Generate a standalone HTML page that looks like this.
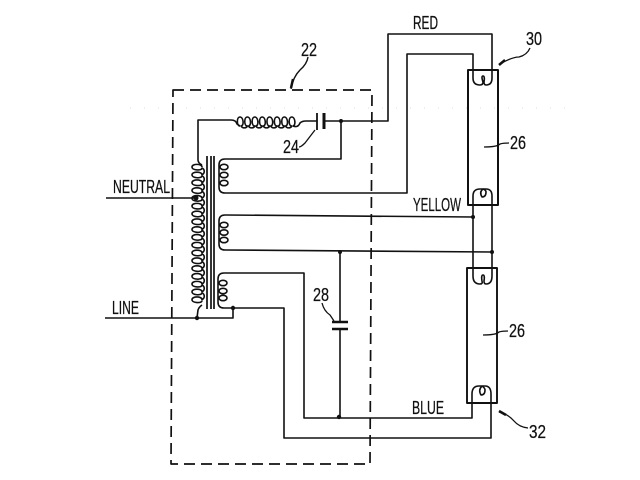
<!DOCTYPE html>
<html><head><meta charset="utf-8"><style>
html,body{margin:0;padding:0;background:#fff;width:640px;height:480px;overflow:hidden}
svg{display:block}
text{font-family:"Liberation Sans",sans-serif;font-size:18px;fill:#111;stroke:#111;stroke-width:.25}
</style></head><body>
<svg width="640" height="480" viewBox="0 0 640 480" xmlns="http://www.w3.org/2000/svg">
<defs>
<g id="ov"><ellipse cx="0" cy="0" rx="4" ry="2.7"/></g>
</defs>
<rect width="640" height="480" fill="#fff"/>
<!-- speckle line -->
<path d="M130,108H565" stroke="#ddd" stroke-width="1" stroke-dasharray="1 13" fill="none"/>
<g fill="none" stroke="#111" stroke-width="1.6" stroke-linejoin="round">
<!-- dashed box -->
<path d="M173,90H372L370,464H171Z" stroke-width="1.7" stroke-dasharray="11 6"/>
<!-- top wire -->
<path d="M198,160V120H231Q236,120 237,124L240,126"/>
<path d="M240,126c-3.5,0 -3.5,-9 0,-9c3.5,0 4.3,9 1,9c1.5,2.5 5.3,2.5 6.4,0c-3.5,0 -3.5,-9 0,-9c3.5,0 4.3,9 1,9c1.5,2.5 5.3,2.5 6.4,0c-3.5,0 -3.5,-9 0,-9c3.5,0 4.3,9 1,9c1.5,2.5 5.3,2.5 6.4,0c-3.5,0 -3.5,-9 0,-9c3.5,0 4.3,9 1,9c1.5,2.5 5.3,2.5 6.4,0c-3.5,0 -3.5,-9 0,-9c3.5,0 4.3,9 1,9c1.5,2.5 5.3,2.5 6.4,0c-3.5,0 -3.5,-9 0,-9c3.5,0 4.3,9 1,9c1.5,2.5 5.3,2.5 6.4,0c-3.5,0 -3.5,-9 0,-9c3.5,0 4.3,9 1,9c1.5,2.5 5.3,2.5 6.4,0c-3.5,0 -3.5,-9 0,-9c3.5,0 4.3,9 1,9"/>
<path d="M293,126Q298,128 300,123Q302,121 306,121H317"/>
<path d="M317,113V130" stroke-width="1.8"/>
<path d="M324,113V129" stroke-width="3"/>
<path d="M324,121H388V34H492V70"/>
<path d="M341,121V159H225Q219,159 219,165V187Q219,193 225,193H407V54H473V70"/>
<!-- primary coil -->
<path d="M198,160Q198,163 202,165"/>
<path d="M202,167c0,-3.5 -10,-3.5 -10,0c0,3.5 10,4 10,1c3,1.5 3,5.3 0,6.8c0,-3.5 -10,-3.5 -10,0c0,3.5 10,4 10,1c3,1.5 3,5.3 0,6.8c0,-3.5 -10,-3.5 -10,0c0,3.5 10,4 10,1c3,1.5 3,5.3 0,6.8c0,-3.5 -10,-3.5 -10,0c0,3.5 10,4 10,1c3,1.5 3,5.3 0,6.8c0,-3.5 -10,-3.5 -10,0c0,3.5 10,4 10,1c3,1.5 3,5.3 0,6.8c0,-3.5 -10,-3.5 -10,0c0,3.5 10,4 10,1c3,1.5 3,5.3 0,6.8c0,-3.5 -10,-3.5 -10,0c0,3.5 10,4 10,1c3,1.5 3,5.3 0,6.8c0,-3.5 -10,-3.5 -10,0c0,3.5 10,4 10,1c3,1.5 3,5.3 0,6.8c0,-3.5 -10,-3.5 -10,0c0,3.5 10,4 10,1c3,1.5 3,5.3 0,6.8c0,-3.5 -10,-3.5 -10,0c0,3.5 10,4 10,1c3,1.5 3,5.3 0,6.8c0,-3.5 -10,-3.5 -10,0c0,3.5 10,4 10,1c3,1.5 3,5.3 0,6.8c0,-3.5 -10,-3.5 -10,0c0,3.5 10,4 10,1c3,1.5 3,5.3 0,6.8c0,-3.5 -10,-3.5 -10,0c0,3.5 10,4 10,1c3,1.5 3,5.3 0,6.8c0,-3.5 -10,-3.5 -10,0c0,3.5 10,4 10,1c3,1.5 3,5.3 0,6.8c0,-3.5 -10,-3.5 -10,0c0,3.5 10,4 10,1c3,1.5 3,5.3 0,6.8c0,-3.5 -10,-3.5 -10,0c0,3.5 10,4 10,1c3,1.5 3,5.3 0,6.8c0,-3.5 -10,-3.5 -10,0c0,3.5 10,4 10,1c3,1.5 3,5.3 0,6.8c0,-3.5 -10,-3.5 -10,0c0,3.5 10,4 10,1"/>
<path d="M202,305Q199,307 198,310L197,318"/>
<!-- core -->
<path d="M207,156V309M211,156V309M214,156V309" stroke-width="1.7"/>
<!-- secondary ovals -->
<use href="#ov" x="224" y="167"/><use href="#ov" x="224" y="175"/><use href="#ov" x="224" y="183"/>
<use href="#ov" x="224" y="225"/><use href="#ov" x="224" y="232.500"/><use href="#ov" x="224" y="240"/>
<use href="#ov" x="223" y="283"/><use href="#ov" x="223" y="291"/><use href="#ov" x="223" y="298"/>
<!-- secondary 2 -->
<path d="M473,217L225,215Q219,215 219,221V244Q219,250 225,250L492,252"/>
<!-- secondary 3 -->
<path d="M472,403V418H304V273H224Q218,273 218,279V302Q218,308 224,308H284V438H491V403"/>
<!-- line / neutral -->
<path d="M105,318H233V308"/>
<path d="M106,198H195"/>
<!-- tube links -->
<path d="M473,205V268M492,205V268"/>
<!-- tubes -->
<path d="M468,70H498V205H468Z" stroke-width="2"/>
<path d="M467,268H497V403H467Z" stroke-width="1.9"/>
<!-- filaments -->
<path d="M473,70V78Q473,85 480,85Q483,85 483,82Q481,76 483,76Q485,76 484,82Q484,85 486,85Q492,85 492,78V70"/>
<path d="M473,205V196Q473,189 480,189H486Q492,189 492,196V205"/>
<path d="M483,189Q479,192 482,197Q486,197 486,192Q486,190 483,189"/>
<path d="M473,268V276Q473,284 480,284Q483,284 482,281Q481,275 483,275Q485,275 484,281Q484,284 486,284Q492,284 492,276V268"/>
<path d="M472,403V394Q472,386 479,386H485Q491,386 491,394V403"/>
<path d="M482,386Q478,390 481,395Q485,395 485,390Q485,388 482,386"/>
<!-- capacitor 28 -->
<path d="M340,252V322"/>
<path d="M332,322H348M332,329H348" stroke-width="2.6"/>
<path d="M340,329V418"/>
<!-- leaders -->
<path d="M315,130L305,143Q301,147 299,147" stroke-width="1.3"/>
<path d="M322,303Q324,311 330,315L334,321" stroke-width="1.3"/>
<path d="M308,57Q307,64 300,70Q293,77 291,89" stroke-width="1.4"/>
<path d="M291,88L293,79" stroke-width="2.5"/>
<path d="M500,64Q512,57 519,57Q527,55 530,48" stroke-width="1.3"/>
<path d="M499,65L505,60" stroke-width="2.5"/>
<path d="M484,147Q497,147 500,144Q503,143 509,143" stroke-width="1.3"/>
<path d="M483,335Q496,335 499,332Q502,331 508,331" stroke-width="1.3"/>
<path d="M499,412Q508,414 514,421Q519,427 528,428" stroke-width="1.3"/>
<path d="M499,411L506,415" stroke-width="2.5"/>
</g>
<!-- dots -->
<g fill="#111">
<circle cx="341" cy="121" r="2"/><circle cx="196" cy="198" r="2.500"/>
<circle cx="197" cy="318" r="2.200"/><circle cx="233" cy="308" r="2.200"/>
<circle cx="473" cy="217" r="2"/><circle cx="492" cy="252" r="2"/>
<circle cx="340" cy="252" r="2"/><circle cx="339" cy="417" r="2.200"/>
</g>
<!-- labels -->
<text x="113" y="193" textLength="57" lengthAdjust="spacingAndGlyphs">NEUTRAL</text>
<text x="112" y="314" textLength="27" lengthAdjust="spacingAndGlyphs">LINE</text>
<text x="413" y="29" textLength="25" lengthAdjust="spacingAndGlyphs">RED</text>
<text x="413" y="211" textLength="48" lengthAdjust="spacingAndGlyphs">YELLOW</text>
<text x="412" y="414" textLength="32" lengthAdjust="spacingAndGlyphs">BLUE</text>
<text x="301" y="56" textLength="16" lengthAdjust="spacingAndGlyphs">22</text>
<text x="283" y="153" textLength="16" lengthAdjust="spacingAndGlyphs">24</text>
<text x="313" y="301" textLength="16" lengthAdjust="spacingAndGlyphs">28</text>
<text x="526" y="45" textLength="16" lengthAdjust="spacingAndGlyphs">30</text>
<text x="510" y="149" textLength="16" lengthAdjust="spacingAndGlyphs">26</text>
<text x="509" y="337" textLength="16" lengthAdjust="spacingAndGlyphs">26</text>
<text x="529" y="438" textLength="17" lengthAdjust="spacingAndGlyphs">32</text>
</svg>
</body></html>
